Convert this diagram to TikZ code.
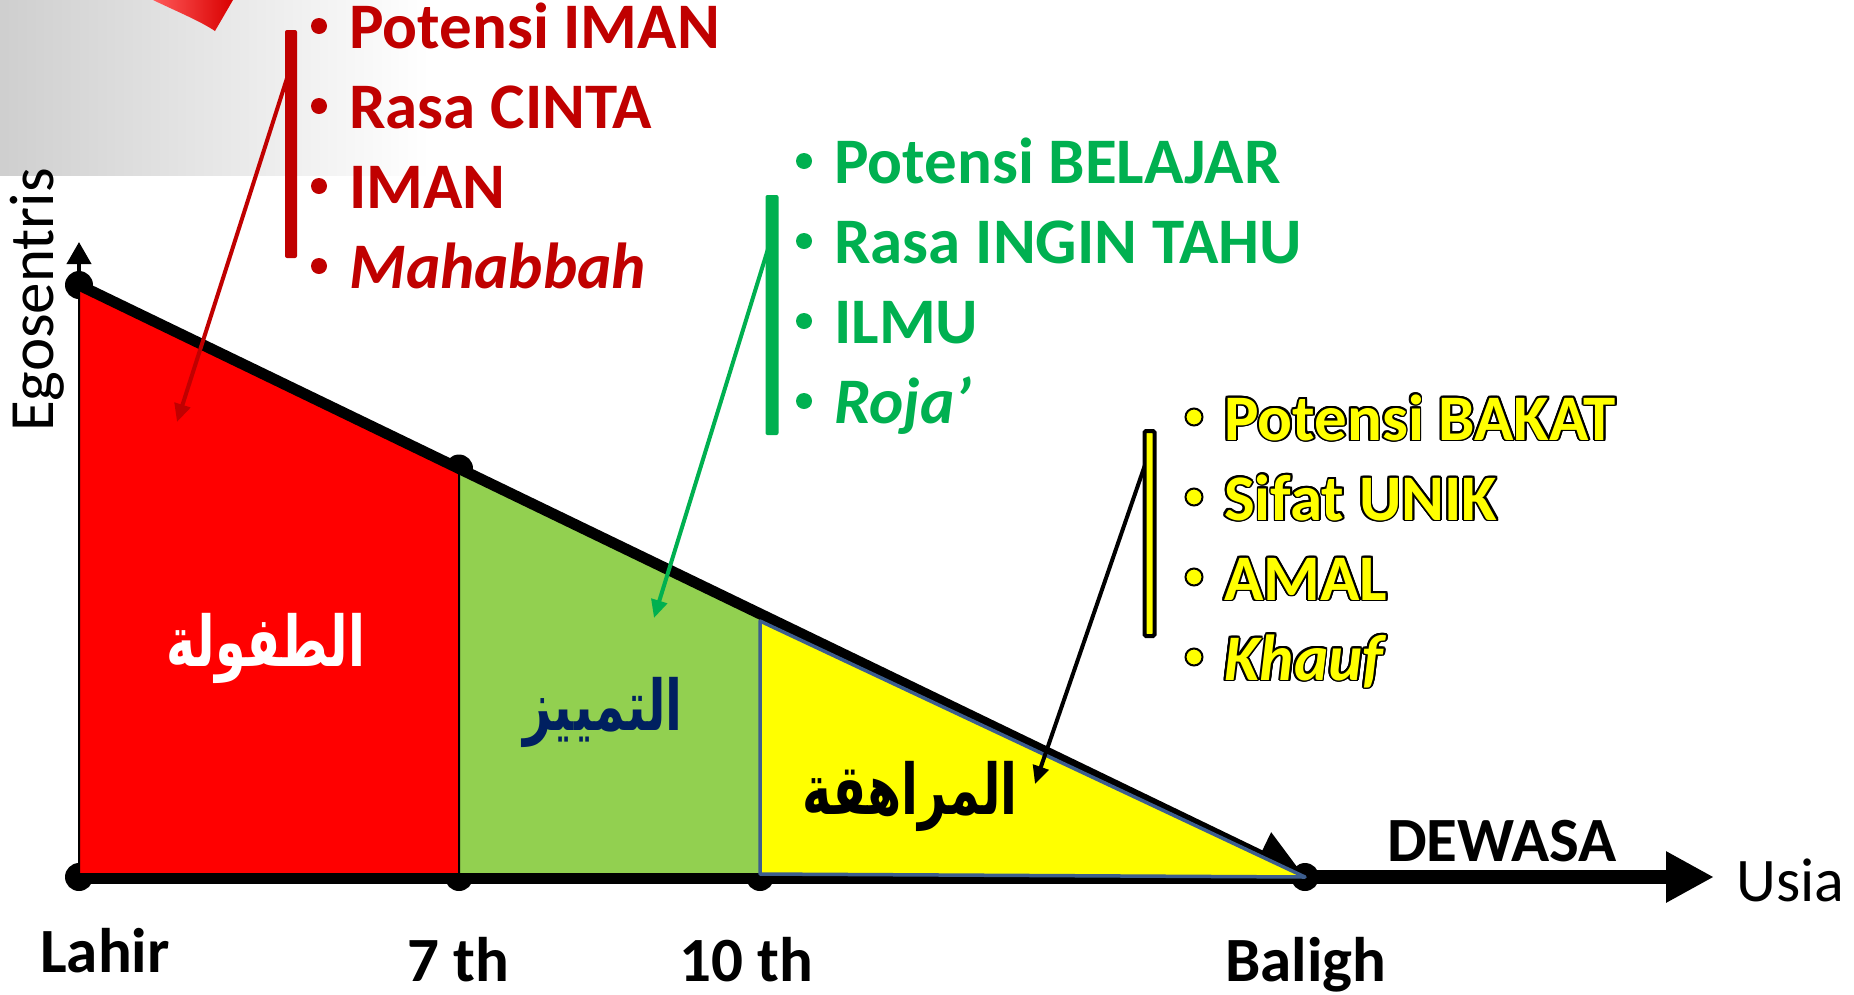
\documentclass[tikz,border=0pt]{standalone}
\usepackage{fontspec}
\setmainfont{Carlito}
\newfontfamily\arabicfont[Script=Arabic]{DejaVu Sans}
\TeXXeTstate=1
\usetikzlibrary{arrows.meta}
\definecolor{dred}{HTML}{C00000}
\definecolor{dgreen}{HTML}{00B050}
\definecolor{lgreen}{HTML}{92D050}
\definecolor{navy}{HTML}{002060}
\definecolor{edgeblue}{HTML}{3D5E8E}
\definecolor{yel}{HTML}{FFFF00}
\newsavebox\olbox
\newcommand\outl[1]{\setbox\olbox\hbox{#1}\leavevmode\rlap{\color{black}\foreach \a in {0,22.5,...,337.5}{\pgfmathsetmacro\dx{1.8*cos(\a)}\pgfmathsetmacro\dy{1.8*sin(\a)}\rlap{\kern\dx pt\raise\dy pt\copy\olbox}}}\copy\olbox}
\newcommand\arabtxt[1]{\scalebox{0.88}[1.25]{\beginR #1\endR}}
\begin{document}
\begin{tikzpicture}[x=1pt,y=-1pt,
  lst/.style={anchor=base west, inner sep=0pt, font=\fontsize{65}{78}\selectfont\bfseries},
  axlbl/.style={anchor=base, inner sep=0pt, font=\fontsize{63}{76}\selectfont\bfseries},
  arab/.style={inner sep=0pt, font=\arabicfont\bfseries\fontsize{56}{68}\selectfont},
  dot/.style={fill=black},
  callout/.style={line width=4pt, -{Triangle[length=18pt,width=16pt]}}]
\useasboundingbox (0,0) rectangle (1854,994);
% background decoration
\shade[left color=black!19, right color=white] (0,0) rectangle (430,175);
\shade[left color=red!65, right color=red!85!black] (153,0) .. controls (178,12) and (200,21) .. (215,31) -- (233,0) -- cycle;
% key points
\coordinate (T) at (79,285);
\coordinate (O) at (79,877);
\coordinate (S7t) at (459,468.5);
\coordinate (S7) at (459,877);
\coordinate (S10t) at (760,614);
\coordinate (S10y) at (760,621);
\coordinate (S10) at (760,877);
\coordinate (B) at (1305,877);
\coordinate (Yend) at (79,242);
\coordinate (Xend) at (1714,877);
\coordinate (Of) at (79,874);
\coordinate (S7f) at (459,874);
\coordinate (S10f) at (760,874);
% axes
\draw[line width=14pt, -{Triangle[length=48pt,width=48pt]}] (O) -- (Xend);
\draw[line width=4pt, -{Triangle[length=22pt,width=24pt]}] (T) -- (Yend);
\foreach \p in {T,S7t,O,S7,S10,B} \fill[dot] (\p) circle[radius=14pt];
% regions
\filldraw[fill=red, draw=black, line width=2pt] (T) -- (S7t) -- (S7f) -- (Of) -- cycle;
\filldraw[fill=lgreen, draw=black, line width=2pt] (S7t) -- (S10t) -- (S10f) -- (S7f) -- cycle;
\draw[line width=11pt, -{Triangle[length=50pt,width=48pt]}] (T) -- (B);
\filldraw[fill=yel, draw=edgeblue, line width=3.5pt, line join=round] (S10y) -- (B) -- (S10f) -- cycle;
% arabic labels
\node[arab, text=white] (tufula) at (266,648) {\arabtxt{الطفولة}};
\node[arab, text=navy] (tamyiz) at (603,712) {\arabtxt{التمييز}};
\node[arab, text=black] (murahaqa) at (910,796) {\arabtxt{المراهقة}};
% axis labels
\node[rotate=90, anchor=base, inner sep=0pt, font=\fontsize{63}{76}\selectfont] (ego) at (53,300) {Egosentris};
\node[axlbl] (lahir) at (105,972) {Lahir};
\node[axlbl] (th7) at (458,981) {7 th};
\node[axlbl] (th10) at (746,981) {10 th};
\node[axlbl] (baligh) at (1306,981) {Baligh};
\node[axlbl] (dewasa) at (1502,861) {DEWASA};
\node[anchor=base west, inner sep=0pt, font=\fontsize{62}{74}\selectfont] (usia) at (1736,901) {Usia};
% red list
\node[fill=dred, minimum width=12pt, minimum height=228pt, inner sep=0pt, rounded corners=2pt] (rbar) at (291,144) {};
\foreach \yy in {48,128,208,288} \fill[dred] (319,\yy-22) circle[radius=8pt];
\node[lst, text=dred] (r1) at (349,48) {Potensi IMAN};
\node[lst, text=dred] (r2) at (349,128) {Rasa CINTA};
\node[lst, text=dred] (r3) at (349,208) {IMAN};
\node[lst, text=dred] (r4) at (349,288) {\itshape Mahabbah};
\coordinate (ra) at (289,72);
\coordinate (rb) at (177,422);
\draw[dred, callout] (ra) -- (rb);
% green list
\node[fill=dgreen, minimum width=13pt, minimum height=240pt, inner sep=0pt, rounded corners=2pt] (gbar) at (772,315) {};
\foreach \yy in {183,263,343,423} \fill[dgreen] (804,\yy-22) circle[radius=8pt];
\node[lst, text=dgreen] (g1) at (834,183) {Potensi BELAJAR};
\node[lst, text=dgreen] (g2) at (834,263) {Rasa INGIN TAHU};
\node[lst, text=dgreen] (g3) at (834,343) {ILMU};
\node[lst, text=dgreen] (g4) at (834,423) {\itshape Roja’};
\coordinate (ga) at (772,236);
\coordinate (gb) at (654,618);
\draw[dgreen, callout] (ga) -- (gb);
% yellow list
\coordinate (ka) at (1146,462);
\coordinate (kb) at (1035,784);
\draw[black, callout] (ka) -- (kb);
\node[fill=yel, draw=black, line width=4pt, minimum width=10pt, minimum height=205pt, inner sep=0pt, rounded corners=1.5pt] (ybar) at (1149.5,533.5) {};
\foreach \yy in {440,520,600,680} \filldraw[fill=yel, draw=black, line width=2pt] (1194,\yy-23) circle[radius=8.5pt];
\node[lst, text=yel] (y1) at (1224,440) {\outl{Potensi BAKAT}};
\node[lst, text=yel] (y2) at (1224,520) {\outl{Sifat UNIK}};
\node[lst, text=yel] (y3) at (1224,600) {\outl{AMAL}};
\node[lst, text=yel] (y4) at (1224,680) {\outl{\itshape Khauf}};
\end{tikzpicture}
\end{document}
